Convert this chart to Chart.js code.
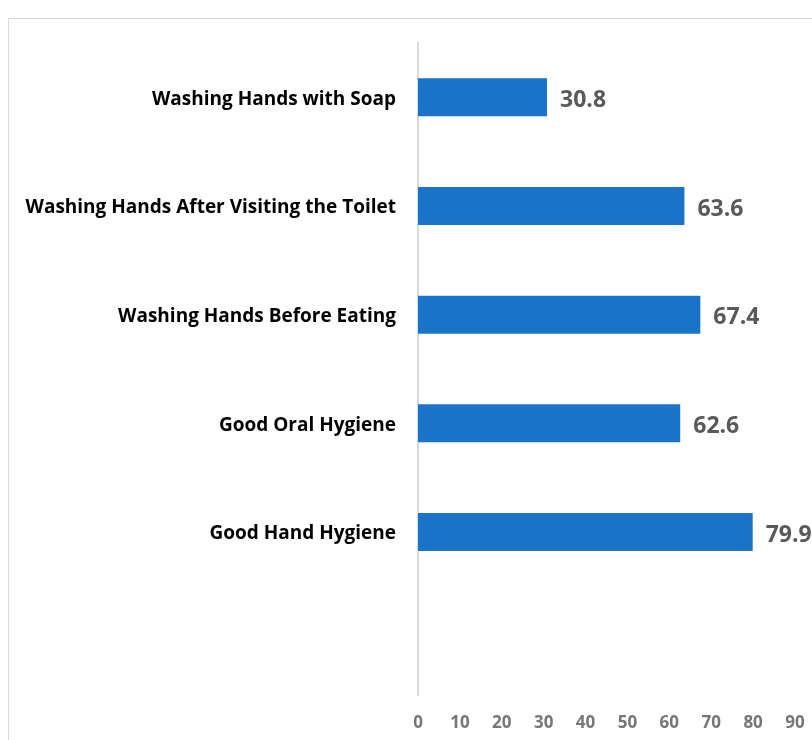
<!DOCTYPE html>
<html>
<head>
<meta charset="utf-8">
<script src="https://cdn.jsdelivr.net/npm/chart.js@4/dist/chart.umd.min.js"></script>
<style>
  html, body { margin: 0; padding: 0; background: #fff; overflow: hidden; }
  #wrap { position: relative; width: 812px; height: 740px; overflow: hidden; }
  #frame { position: absolute; left: 8px; top: 18px; width: 900px; height: 900px; border: 1px solid #d9d9d9; box-sizing: border-box; }
  #chart { position: absolute; left: 0; top: 0; }
</style>
</head>
<body>
<div id="wrap">
  <div id="frame"></div>
  <canvas id="chart" width="812" height="740"></canvas>
</div>
<script>
// categories, top to bottom (last slot is empty in the original)
var categories = [
  "Washing Hands with Soap",
  "Washing Hands After Visiting the Toilet",
  "Washing Hands Before Eating",
  "Good Oral Hygiene",
  "Good Hand Hygiene",
  ""
];
var values = [30.8, 63.6, 67.4, 62.6, 79.9, null];
var tickValues = [0, 10, 20, 30, 40, 50, 60, 70, 80, 90];

var fontName = "'Open Sans', 'Liberation Sans', sans-serif";

//value labels to the right of each bar
var barLabels = {
  id: 'barLabels',
  afterDatasetsDraw: function (chart) {
    var ctx = chart.ctx;
    var meta = chart.getDatasetMeta(0);
    ctx.save();
    ctx.font = "bold 23px " + fontName;
    ctx.fillStyle = "#595959";
    ctx.textAlign = "left";
    ctx.textBaseline = "middle";
    meta.data.forEach(function (bar, i) {
      if (values[i] == null) return;
      ctx.fillText(values[i].toFixed(1), bar.x + 13, bar.y + 3);
    });
    ctx.restore();
  }
};

var ctx = document.getElementById('chart').getContext('2d');
var myChart = new Chart(ctx, {
  type: 'bar',
  data: {
    labels: categories,
    datasets: [{
      data: values,
      backgroundColor: "#1873c9",
      borderWidth: 0,
      categoryPercentage: 1,
      barPercentage: 0.35
    }]
  },
  options: {
    indexAxis: 'y',
    responsive: false,
    animation: false,
    layout: { padding: { top: 43, right: 17, left: 0, bottom: 0 } },
    plugins: {
      legend: { display: false },
      tooltip: { enabled: false }
    },
    scales: {
      x: {
        min: 0,
        max: 90,
        afterBuildTicks: function (scale) {
          scale.ticks = tickValues.map(function (v) { return { value: v }; });
        },
        afterFit: function (scale) { scale.height = 45; },
        grid: { display: false, drawTicks: true, tickLength: 16 },
        border: { display: false },
        ticks: {
          padding: 2,
          maxRotation: 0,
          color: "#767676",
          font: { family: fontName, size: 17, weight: 'bold' }
        }
      },
      y: {
        afterFit: function (scale) { scale.width = 418; },
        grid: { display: false, drawTicks: false },
        border: { display: true, color: "#d9d9d9", width: 2 },
        ticks: {
          padding: 22,
          labelOffset: 2,
          color: "#000000",
          font: { family: fontName, size: 19, weight: 'bold' }
        }
      }
    }
  },
  plugins: [barLabels]
});
</script>
</body>
</html>
